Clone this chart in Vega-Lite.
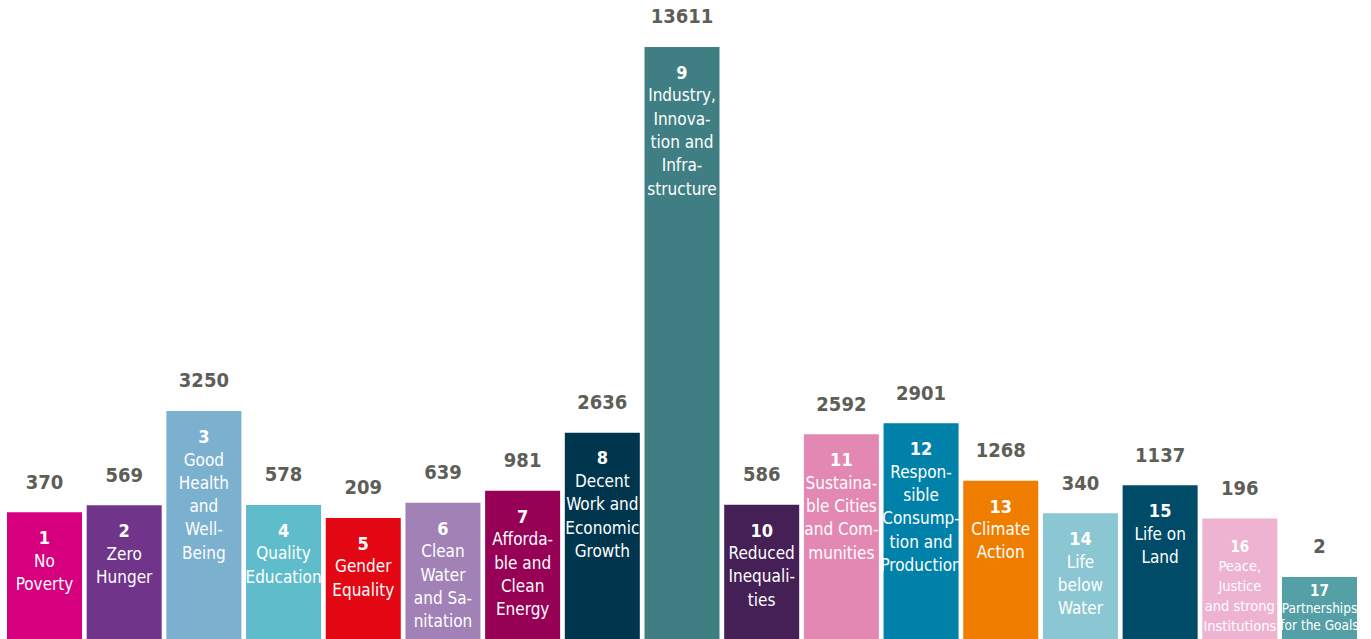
{
  "$schema": "https://vega.github.io/schema/vega-lite/v6.json",
  "width": 1371,
  "height": 639,
  "padding": 0,
  "autosize": {"type": "none"},
  "background": "#ffffff",
  "config": {"view": {"stroke": null}},
  "data": {
    "values": [
      {"goal": 1, "value": 370, "label": "No\nPoverty"},
      {"goal": 2, "value": 569, "label": "Zero\nHunger"},
      {"goal": 3, "value": 3250, "label": "Good\nHealth\nand\nWell-\nBeing"},
      {"goal": 4, "value": 578, "label": "Quality\nEducation"},
      {"goal": 5, "value": 209, "label": "Gender\nEquality"},
      {"goal": 6, "value": 639, "label": "Clean\nWater\nand Sa-\nnitation"},
      {"goal": 7, "value": 981, "label": "Afforda-\nble and\nClean\nEnergy"},
      {"goal": 8, "value": 2636, "label": "Decent\nWork and\nEconomic\nGrowth"},
      {"goal": 9, "value": 13611, "label": "Industry,\nInnova-\ntion and\nInfra-\nstructure"},
      {"goal": 10, "value": 586, "label": "Reduced\nInequali-\nties"},
      {"goal": 11, "value": 2592, "label": "Sustaina-\nble Cities\nand Com-\nmunities"},
      {"goal": 12, "value": 2901, "label": "Respon-\nsible\nConsump-\ntion and\nProduction"},
      {"goal": 13, "value": 1268, "label": "Climate\nAction"},
      {"goal": 14, "value": 340, "label": "Life\nbelow\nWater"},
      {"goal": 15, "value": 1137, "label": "Life on\nLand"},
      {"goal": 16, "value": 196, "label": "Peace,\nJustice\nand strong\nInstitutions"},
      {"goal": 17, "value": 2, "label": "Partnerships\nfor the Goals"}
    ]
  },
  "encoding": {
    "x": {
      "field": "goal",
      "type": "ordinal",
      "scale": {"range": [7, 1357], "paddingInner": 0.0588, "paddingOuter": 0},
      "axis": null
    },
    "y": {
      "field": "value",
      "type": "quantitative",
      "scale": {"domain": [0, 2, 100, 13611], "range": [639, 577, 521.8, 47], "nice": false, "zero": false},
      "axis": null
    }
  },
  "layer": [
    {
      "mark": {"type": "bar"},
      "encoding": {
        "color": {
          "field": "goal",
          "type": "nominal",
          "scale": {
            "domain": [1, 2, 3, 4, 5, 6, 7, 8, 9, 10, 11, 12, 13, 14, 15, 16, 17],
            "range": ["#D6007F", "#70358A", "#7BB0CF", "#5FBCCB", "#E30613", "#A181B6", "#960055", "#00364D", "#3F7F84", "#452057", "#E388B2", "#0081AA", "#EF7D00", "#8BC7D2", "#004B68", "#EDB3D1", "#559FA6"]
          },
          "legend": null
        }
      }
    },
    {
      "mark": {"type": "text", "baseline": "middle", "align": "center", "dy": -29.7, "font": "DejaVu Sans Condensed, sans-serif", "fontSize": 20, "fontWeight": "bold", "letterSpacing": -0.6, "color": "#5e5e58"},
      "encoding": {"text": {"field": "value", "type": "quantitative", "format": "d"}}
    },
    {
      "transform": [{"filter": "datum.goal <= 15"}],
      "mark": {"type": "text", "baseline": "top", "align": "center", "dy": 17.8, "font": "DejaVu Sans Condensed, sans-serif", "fontSize": 18, "fontWeight": "bold", "letterSpacing": -0.5, "color": "#ffffff"},
      "encoding": {"text": {"field": "goal", "type": "nominal"}}
    },
    {
      "transform": [{"filter": "datum.goal <= 15"}],
      "mark": {"type": "text", "baseline": "top", "align": "center", "dy": 41.4, "lineBreak": "\n", "lineHeight": 23.3, "font": "DejaVu Sans Condensed, sans-serif", "fontSize": 17, "letterSpacing": -0.7, "color": "#ffffff"},
      "encoding": {"text": {"field": "label", "type": "nominal"}}
    },
    {
      "transform": [{"filter": "datum.goal == 16"}],
      "mark": {"type": "text", "baseline": "top", "align": "center", "dy": 22, "font": "DejaVu Sans Condensed, sans-serif", "fontSize": 15, "fontWeight": "bold", "letterSpacing": -0.4, "color": "#ffffff"},
      "encoding": {"text": {"field": "goal", "type": "nominal"}}
    },
    {
      "transform": [{"filter": "datum.goal == 16"}],
      "mark": {"type": "text", "baseline": "top", "align": "center", "dy": 41.6, "lineBreak": "\n", "lineHeight": 20, "font": "DejaVu Sans Condensed, sans-serif", "fontSize": 14.5, "letterSpacing": -0.75, "color": "#ffffff"},
      "encoding": {"text": {"field": "label", "type": "nominal"}}
    },
    {
      "transform": [{"filter": "datum.goal == 17"}],
      "mark": {"type": "text", "baseline": "top", "align": "center", "dy": 7, "font": "DejaVu Sans Condensed, sans-serif", "fontSize": 15, "fontWeight": "bold", "letterSpacing": -0.4, "color": "#ffffff"},
      "encoding": {"text": {"field": "goal", "type": "nominal"}}
    },
    {
      "transform": [{"filter": "datum.goal == 17"}],
      "mark": {"type": "text", "baseline": "top", "align": "center", "dy": 24.8, "lineBreak": "\n", "lineHeight": 17.7, "font": "DejaVu Sans Condensed, sans-serif", "fontSize": 13.5, "letterSpacing": -0.65, "color": "#ffffff"},
      "encoding": {"text": {"field": "label", "type": "nominal"}}
    }
  ]
}
